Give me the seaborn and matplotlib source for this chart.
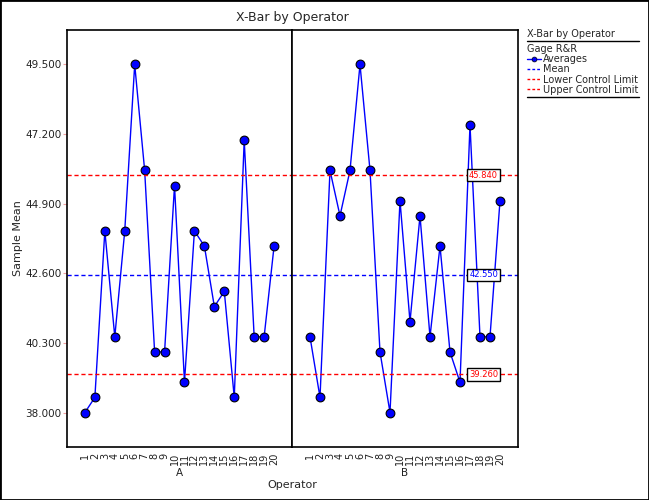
import matplotlib
matplotlib.use("Agg")
import matplotlib.pyplot as plt
from matplotlib.lines import Line2D
from matplotlib.patches import Rectangle
import seaborn as sns
import pandas as pd

# ---- data ----
operators = ["A", "B"]
parts = list(range(1, 21))
averages_A = [38.0, 38.5, 44.0, 40.5, 44.0, 49.5, 46.0, 40.0, 40.0, 45.5,
              39.0, 44.0, 43.5, 41.5, 42.0, 38.5, 47.0, 40.5, 40.5, 43.5]
averages_B = [40.5, 38.5, 46.0, 44.5, 46.0, 49.5, 46.0, 40.0, 38.0, 45.0,
              41.0, 44.5, 40.5, 43.5, 40.0, 39.0, 47.5, 40.5, 40.5, 45.0]
mean_value = 42.55
lcl_value = 39.26
ucl_value = 45.84
y_ticks = [38.0, 40.3, 42.6, 44.9, 47.2, 49.5]
legend_labels = ["Averages", "Mean", "Lower Control Limit", "Upper Control Limit"]

df = pd.DataFrame({
    "Operator": ["A"] * 20 + ["B"] * 20,
    "Part": parts + parts,
    "Average": averages_A + averages_B,
})

sns.set_style("white")
plt.rcParams["font.family"] = ["DejaVu Sans"]

W, H = 649, 500
fig = plt.figure(figsize=(W / 100, H / 100), dpi=100)

def fx(px):
    return px / W

def fy(py):
    return 1 - py / H

top, bottom = 30, 447
axA = fig.add_axes([fx(67), fy(bottom), fx(292) - fx(67), (bottom - top) / H])
axB = fig.add_axes([fx(292), fy(bottom), fx(518) - fx(292), (bottom - top) / H])

tick_col = "#f0a0a0"
text_col = "#222222"
for ax, op in zip([axA, axB], operators):
    sub = df[df["Operator"] == op]
    sns.lineplot(data=sub, x="Part", y="Average", ax=ax, color="blue", lw=1,
                 marker="o", markersize=6.3, markerfacecolor="blue",
                 markeredgecolor="black", markeredgewidth=0.8)
    ax.axhline(ucl_value, color="red", lw=1, ls=(0, (3, 2)))
    ax.axhline(lcl_value, color="red", lw=1, ls=(0, (3, 2)))
    ax.axhline(mean_value, color="blue", lw=1, ls=(0, (3, 2)))
    ax.set_xlim(-0.8, 21.8)
    ax.set_ylim(36.86, 50.64)
    ax.set_xticks(parts)
    ax.set_xticklabels([str(p) for p in parts], rotation=90, fontsize=7, color=text_col)
    ax.tick_params(axis="x", length=3, width=0.8, color=tick_col, pad=1)
    ax.set_xlabel(op, fontsize=7.5, labelpad=2, color=text_col)
    ax.set_ylabel("")
    for s in ax.spines.values():
        s.set_color("black")
        s.set_linewidth(1.2)
    ax.grid(False)

axA.set_yticks(y_ticks)
axA.set_yticklabels([f"{v:.3f}" for v in y_ticks], fontsize=7.5, color=text_col)
axA.tick_params(axis="y", length=3, width=0.8, color=tick_col, pad=1, left=True)
axB.set_yticks([])

# limit value boxes
for val, col in [(ucl_value, "red"), (mean_value, "blue"), (lcl_value, "red")]:
    axB.text(19.8, val, f"{val:.3f}", ha="right", va="center", fontsize=6, color=col,
             bbox=dict(boxstyle="square,pad=0.2", fc="white", ec="black", lw=1))

fig.text(fx(292), fy(17), "X-Bar by Operator", ha="center", va="center", fontsize=9)
fig.text(fx(18), fy(238), "Sample Mean", ha="center", va="center", rotation=90, fontsize=8)
fig.text(fx(292), fy(485), "Operator", ha="center", va="center", fontsize=8)

# legend
fig.text(fx(527), fy(34), "X-Bar by Operator", ha="left", va="center", fontsize=7)
fig.add_artist(Line2D([fx(527), fx(639)], [fy(40.5), fy(40.5)], color="black", lw=1,
                      transform=fig.transFigure))
fig.add_artist(Line2D([fx(527), fx(639)], [fy(96.5), fy(96.5)], color="black", lw=1,
                      transform=fig.transFigure))
handles = [
    Line2D([], [], color="blue", lw=1, marker="o", markersize=3.5,
           markerfacecolor="blue", markeredgecolor="black", markeredgewidth=0.5),
    Line2D([], [], color="blue", lw=1, ls=(0, (2, 1.5))),
    Line2D([], [], color="red", lw=1, ls=(0, (2, 1.5))),
    Line2D([], [], color="red", lw=1, ls=(0, (2, 1.5))),
]
leg = fig.legend(handles, legend_labels, title="Gage R&R", loc="upper left",
                 bbox_to_anchor=(fx(526), fy(43)), frameon=False, fontsize=7,
                 title_fontsize=7, handlelength=1.4, handletextpad=0.25,
                 labelspacing=0.02, borderpad=0.1, borderaxespad=0,
                 alignment="left")

fig.add_artist(Rectangle((0, 0), 1, 1, transform=fig.transFigure, fill=False,
                         ec="black", lw=2))

fig.savefig("out.png", dpi=100)
